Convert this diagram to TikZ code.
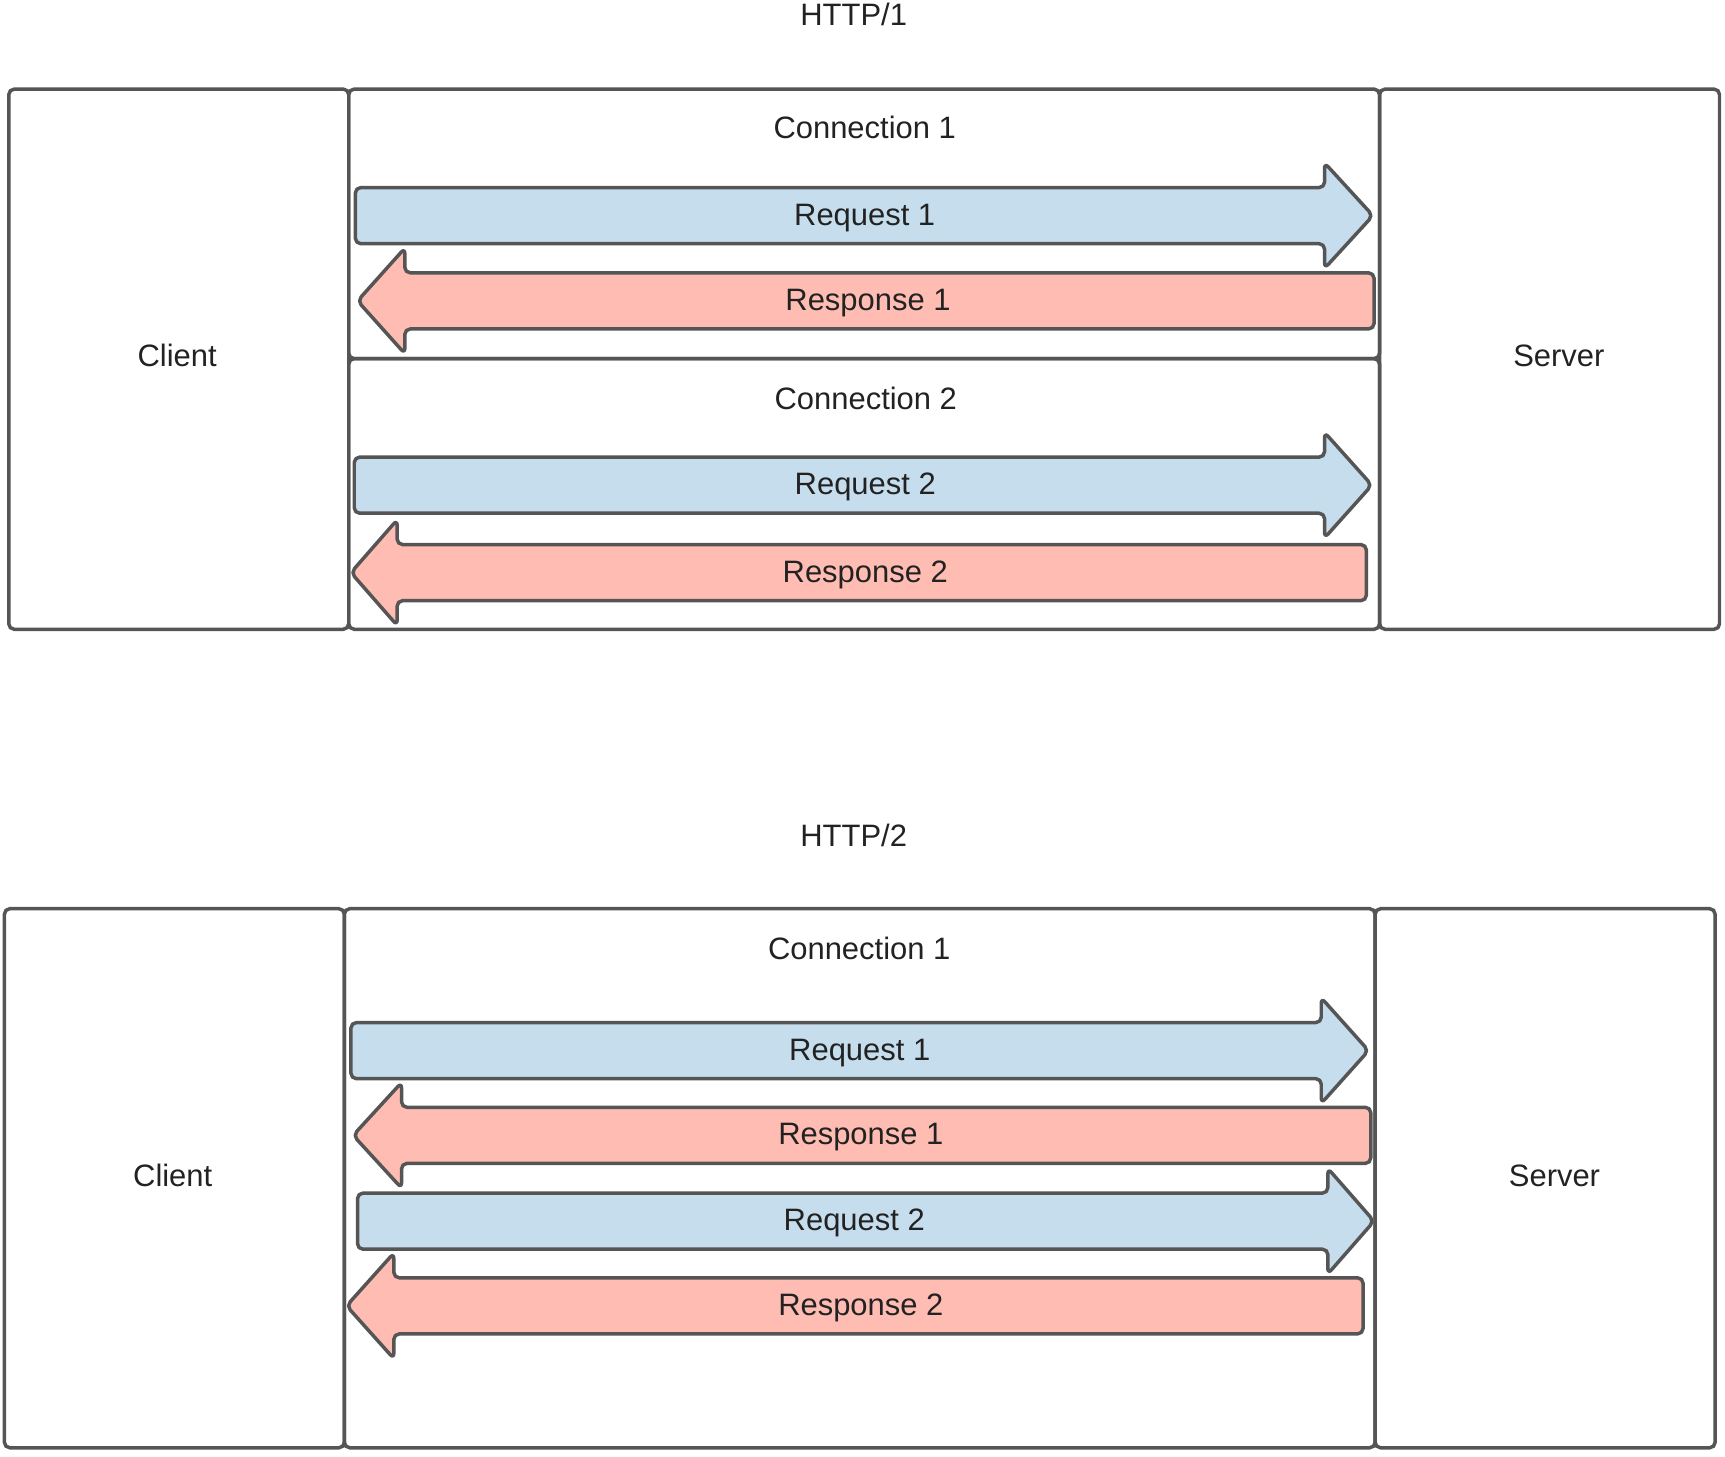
\documentclass[tikz,border=0pt]{standalone}
\usepackage{fontspec}
\setmainfont{Liberation Sans}
\definecolor{edge}{HTML}{555555}
\definecolor{reqfill}{HTML}{C6DDEE}
\definecolor{resfill}{HTML}{FFBCB3}
\definecolor{txt}{HTML}{222222}
\tikzset{
  box/.style={draw=edge, line width=0.9pt, rounded corners=1.4pt},
  reqstyle/.style={draw=edge, fill=reqfill, line width=0.9pt, rounded corners=1.4pt, line join=round},
  resstyle/.style={draw=edge, fill=resfill, line width=0.9pt, rounded corners=1.4pt, line join=round},
  lbl/.style={font=\fontsize{8}{9.6}\selectfont, text=txt, inner sep=0pt, text height=5.73pt, text depth=0pt},
}
% name, x left, x neck, x tip, y centre, text, text x
\newcommand\drawreq[7]{%
  \draw[reqstyle] (#2,#5-25.5) -- (#3,#5-25.5) -- (#3,#5-48) -- (#4,#5) -- (#3,#5+48) -- (#3,#5+25.5) -- (#2,#5+25.5) -- cycle;
  \node[lbl] (#1) at (#7,#5-1.5) {#6};}
% name, x tip, x neck, x right, y centre, text, text x
\newcommand\drawres[7]{%
  \draw[resstyle] (#4,#5-25.5) -- (#3,#5-25.5) -- (#3,#5-48) -- (#2,#5) -- (#3,#5+48) -- (#3,#5+25.5) -- (#4,#5+25.5) -- cycle;
  \node[lbl] (#1) at (#7,#5-1.5) {#6};}
\begin{document}
\begin{tikzpicture}[x=0.01cm, y=-0.01cm]
\useasboundingbox (0,0) rectangle (1568,1323.5);
% ---------------- HTTP/1 ----------------
\node[lbl] (t1) at (776,13) {HTTP/1};
\draw[box] (8,81) rectangle (317,572);
\draw[box] (317,81) rectangle (1254,326);
\draw[box] (317,326) rectangle (1254,572);
\draw[box] (1254,81) rectangle (1563,572);
\node[lbl] (c1) at (161,323) {Client};
\node[lbl] (s1) at (1417,323) {Server};
\node[lbl] (a1) at (786,116) {Connection 1};
\node[lbl] (a2) at (787,362) {Connection 2};
\drawreq{q11}{323}{1204}{1248}{196}{Request 1}{786}
\drawres{r11}{325}{368}{1249}{273.5}{Response 1}{789}
\drawreq{q12}{322}{1204}{1247}{441}{Request 2}{786.5}
\drawres{r12}{319}{361}{1242}{520.5}{Response 2}{786.5}
% ---------------- HTTP/2 ----------------
\node[lbl] (t2) at (776,759) {HTTP/2};
\draw[box] (4,826) rectangle (313,1316);
\draw[box] (313,826) rectangle (1250,1316);
\draw[box] (1250,826) rectangle (1559,1316);
\node[lbl] (c2) at (157,1068) {Client};
\node[lbl] (s2) at (1413,1068) {Server};
\node[lbl] (b1) at (781,862) {Connection 1};
\drawreq{q21}{319}{1201}{1244}{955}{Request 1}{781.5}
\drawres{r21}{321}{365}{1246}{1032}{Response 1}{782.5}
\drawreq{q22}{325}{1207}{1249}{1110}{Request 2}{776.5}
\drawres{r22}{315}{358}{1239}{1187}{Response 2}{782.5}
\end{tikzpicture}
\end{document}
